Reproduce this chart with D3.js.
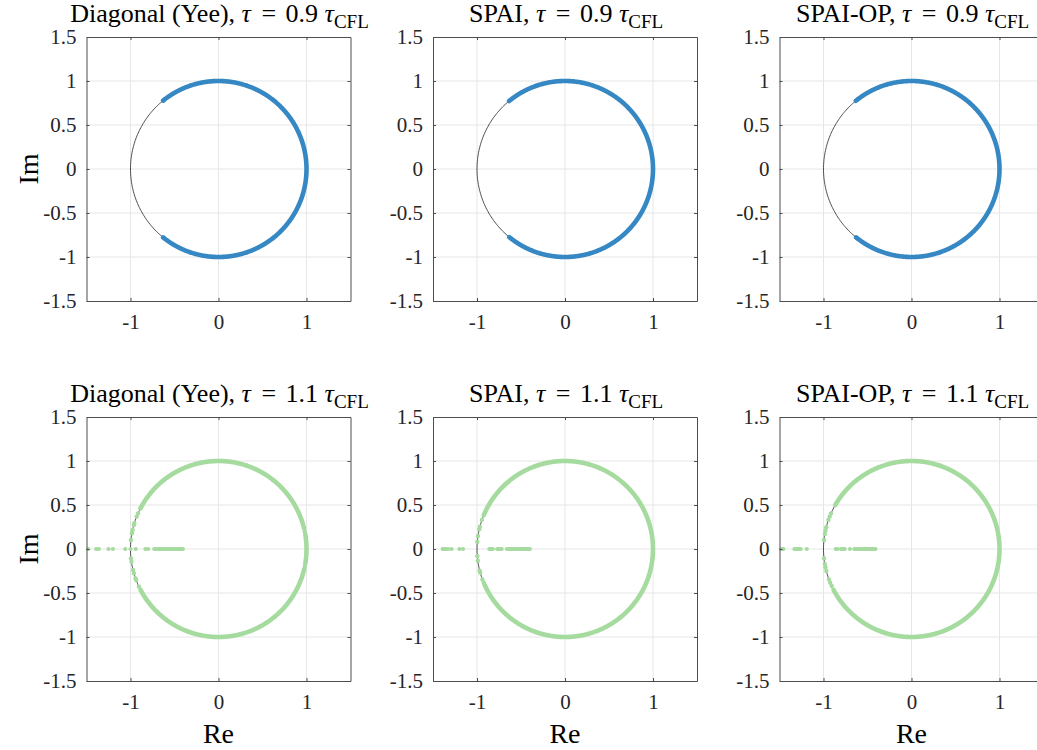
<!DOCTYPE html>
<html>
<head>
<meta charset="utf-8">
<script src="https://cdn.jsdelivr.net/npm/d3@7"></script>
<style>
  html, body { margin: 0; padding: 0; background: #fff; }
  svg { display: block; font-family: "Liberation Serif", "Times New Roman", serif; }
  svg text { font-family: "Liberation Serif", "Times New Roman", serif; white-space: pre; }
</style>
</head>
<body>
<svg id="chart" width="1037" height="750"></svg>
<script>
// Axis ticks
const xTicks = [-1, 0, 1];
const yTicks = [-1.5, -1, -0.5, 0, 0.5, 1, 1.5];

// Panel titles: method name and time-step factor
const methods = ["Diagonal (Yee)", "SPAI", "SPAI-OP"];
const stepFactors = ["0.9", "1.1"];

// Eigenvalues on the unit circle: dense clusters as [fromDeg, toDeg]
const bandsYee09    = [[-129, 129]];
const bandsSpai09   = [[-129.2, 129.4]];
const bandsSpaiOp09 = [[-129, 129.2]];
const bandsYee11    = [[-152.3, -13], [-9.5, 9.5], [13.5, 152.5]];
const bandsSpai11   = [[-155.9, 157.3]];
const bandsSpaiOp11 = [[-152.3, 150]];

// Isolated eigenvalues on the unit circle (angle, degrees)
const dotsYee09    = [];
const dotsSpai09   = [];
const dotsSpaiOp09 = [];
const dotsYee11    = [156.1, 158.4, 163, 164.2, 167.5, 169.7, 174.1, -173.9, -171.7, -166.2, -164, -160.5, -159.4, -154.7, 11.5, -11.2];
const dotsSpai11   = [160.8, 165.3, 167.1, 171.5, 175.2, -175.4, -172.4, -165.7, -164.4, -159.8, -157.5];
const dotsSpaiOp11 = [156.1, 158.4, 160.8, 165.7, 168, 170.2, 174.1, -173.9, -170.2, -168, -165.5, -159.8, -157.5, -155.1];

// Real eigenvalues (on the negative real axis)
const realYee09    = [];
const realSpai09   = [];
const realSpaiOp09 = [];
const realYee11    = [-1.48, -1.39, -1.36, -1.25, -1.20, -1.06, -1.00, -0.94, -0.83, -0.80,
                      -0.73, -0.71, -0.685, -0.67, -0.65, -0.63, -0.615, -0.60, -0.58, -0.565,
                      -0.55, -0.53, -0.515, -0.50, -0.48, -0.465, -0.45, -0.435, -0.42, -0.405];
const realSpai11   = [-1.39, -1.37, -1.35, -1.33, -1.29, -1.20, -1.16, -0.86, -0.845, -0.83, -0.82,
                      -0.77, -0.755, -0.74, -0.72, -0.66, -0.64, -0.625, -0.61, -0.59, -0.575,
                      -0.56, -0.54, -0.525, -0.51, -0.49, -0.475, -0.46, -0.445, -0.43, -0.415, -0.40];
const realSpaiOp11 = [-1.48, -1.465, -1.455, -1.33, -1.315, -1.30, -1.28, -1.26, -1.19, -0.86, -0.84,
                      -0.80, -0.78, -0.76, -0.70, -0.65, -0.635, -0.62, -0.60, -0.585, -0.57,
                      -0.55, -0.535, -0.52, -0.50, -0.485, -0.47, -0.455, -0.44, -0.425, -0.41];

const panels = [
  { row: 0, col: 0, bands: bandsYee09,    dots: dotsYee09,    reals: realYee09,    color: "#3588c3" },
  { row: 0, col: 1, bands: bandsSpai09,   dots: dotsSpai09,   reals: realSpai09,   color: "#3588c3" },
  { row: 0, col: 2, bands: bandsSpaiOp09, dots: dotsSpaiOp09, reals: realSpaiOp09, color: "#3588c3" },
  { row: 1, col: 0, bands: bandsYee11,    dots: dotsYee11,    reals: realYee11,    color: "#a6dba0" },
  { row: 1, col: 1, bands: bandsSpai11,   dots: dotsSpai11,   reals: realSpai11,   color: "#a6dba0" },
  { row: 1, col: 2, bands: bandsSpaiOp11, dots: dotsSpaiOp11, reals: realSpaiOp11, color: "#a6dba0" }
];

const svg = d3.select("#chart");
const size = 264;
const lefts = [86.5, 433, 779.5];
const tops = [37, 417];
const axisColor = "#4d4d4d";
const gridColor = "#e6e6e6";
const serif = '"Liberation Serif", "Times New Roman", serif';
const rad = Math.PI / 180;

panels.forEach(p => {
  const x0 = lefts[p.col], y0 = tops[p.row];
  const x = d3.scaleLinear().domain([-1.5, 1.5]).range([x0, x0 + size]);
  const y = d3.scaleLinear().domain([-1.5, 1.5]).range([y0 + size, y0]);
  const g = svg.append("g");

  // grid
  g.selectAll(".gx").data(xTicks).join("line")
    .attr("x1", d => x(d)).attr("x2", d => x(d))
    .attr("y1", y(-1.5)).attr("y2", y(1.5))
    .attr("stroke", gridColor).attr("stroke-width", 1);
  g.selectAll(".gy").data(yTicks.filter(d => Math.abs(d) < 1.5)).join("line")
    .attr("x1", x(-1.5)).attr("x2", x(1.5))
    .attr("y1", d => y(d)).attr("y2", d => y(d))
    .attr("stroke", gridColor).attr("stroke-width", 1);

  // reference unit circle
  const circ = d3.range(0, 361, 1).map(a => [Math.cos(a * rad), Math.sin(a * rad)]);
  const line = d3.line().x(d => x(d[0])).y(d => y(d[1]));
  g.append("path").attr("d", line(circ))
    .attr("fill", "none").attr("stroke", "#222").attr("stroke-width", 0.8);

  // dense eigenvalue clusters along the circle
  p.bands.forEach(([a0, a1]) => {
    const n = Math.max(2, Math.ceil((a1 - a0) / 0.5));
    const pts = d3.range(n + 1).map(i => {
      const a = (a0 + (a1 - a0) * i / n) * rad;
      return [Math.cos(a), Math.sin(a)];
    });
    g.append("path").attr("d", line(pts))
      .attr("fill", "none").attr("stroke", p.color)
      .attr("stroke-width", 4.6).attr("stroke-linecap", "round");
  });

  // isolated eigenvalues on the circle
  g.selectAll(".dot").data(p.dots).join("circle")
    .attr("cx", d => x(Math.cos(d * rad)))
    .attr("cy", d => y(Math.sin(d * rad)))
    .attr("r", 2.2).attr("fill", p.color);

  // real eigenvalues
  g.selectAll(".re").data(p.reals).join("circle")
    .attr("cx", d => x(d)).attr("cy", y(0))
    .attr("r", 2.1).attr("fill", p.color);

  // axes (box with inward ticks)
  const fmt = d => String(d);
  const styleAxis = sel => {
    sel.attr("font-family", serif).attr("font-size", 21);
    sel.select(".domain").attr("stroke", axisColor);
    sel.selectAll(".tick line").attr("stroke", axisColor);
    sel.selectAll(".tick text").attr("fill", "#262626")
      .attr("font-family", serif)
      .style("font-size", "21px").style("font-family", serif);
  };
  g.append("g").attr("transform", `translate(${x0},0)`)
    .call(d3.axisLeft(y).tickValues(yTicks).tickFormat(fmt).tickSizeInner(-3).tickSizeOuter(0).tickPadding(10))
    .call(styleAxis);
  g.append("g").attr("transform", `translate(0,${y0 + size})`)
    .call(d3.axisBottom(x).tickValues(xTicks).tickFormat(fmt).tickSizeInner(-3).tickSizeOuter(0).tickPadding(13))
    .call(styleAxis);
  g.append("g").attr("transform", `translate(0,${y0})`)
    .call(d3.axisTop(x).tickValues(xTicks).tickFormat("").tickSizeInner(-3).tickSizeOuter(0))
    .call(styleAxis);
  g.append("g").attr("transform", `translate(${x0 + size},0)`)
    .call(d3.axisRight(y).tickValues(yTicks).tickFormat("").tickSizeInner(-3).tickSizeOuter(0))
    .call(styleAxis);
  g.selectAll(".domain").attr("stroke-width", 1);

  // title
  const t = svg.append("text")
    .attr("x", x0 + size / 2 + 1).attr("y", y0 - 15)
    .attr("text-anchor", "middle").style("font-size", "26px").attr("fill", "#000");
  t.append("tspan").text(methods[p.col] + ", ");
  t.append("tspan").attr("font-style", "italic").text("τ");
  t.append("tspan").attr("dx", 4).text(" = ");
  t.append("tspan").attr("dx", 3).text(stepFactors[p.row] + " ");
  t.append("tspan").attr("font-style", "italic").text("τ");
  t.append("tspan").style("font-size", "19px").attr("dy", 6).text("CFL");

  // axis labels
  if (p.col === 0) {
    svg.append("text")
      .attr("transform", `translate(38,${y0 + size / 2}) rotate(-90)`)
      .attr("text-anchor", "middle").style("font-size", "28px").attr("fill", "#000")
      .text("Im");
  }
  if (p.row === 1) {
    svg.append("text")
      .attr("x", x0 + size / 2).attr("y", 743)
      .attr("text-anchor", "middle").style("font-size", "28px").attr("fill", "#000")
      .text("Re");
  }
});
</script>
</body>
</html>
